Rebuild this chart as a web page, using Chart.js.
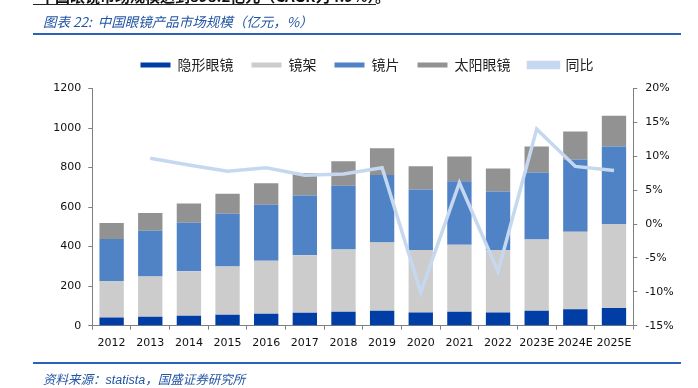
<!DOCTYPE html>
<html><head><meta charset="utf-8">
<script src="https://cdn.jsdelivr.net/npm/chart.js@4/dist/chart.umd.min.js"></script>
<style>
html,body{margin:0;padding:0;background:#fff;width:698px;height:388px;overflow:hidden;position:relative;}
#wrap{position:absolute;left:0;top:0;width:698px;height:388px;}
.t{position:absolute;white-space:nowrap;font-family:"Noto Sans CJK SC",sans-serif;}
#topline{position:absolute;left:33px;top:4px;width:343px;height:1px;background:#222;}
#toptext{left:40px;top:-15px;font-size:15px;font-weight:bold;color:#111;}
#title{left:43px;top:11px;font-size:13.5px;font-style:italic;color:#2255a4;}
#l1{position:absolute;left:33px;top:33px;width:648px;height:2px;background:#2a62b8;}
#l2{position:absolute;left:33px;top:362px;width:648px;height:2px;background:#2a62b8;}
#src{left:43px;top:369px;font-size:12.5px;font-style:italic;color:#2255a4;}
</style></head>
<body>
<div id="wrap"><canvas id="c" width="698" height="388"></canvas></div>
<div class="t" id="toptext">中国眼镜市场规模达到898.2亿元（CAGR为4.9%）。</div>
<div id="topline"></div>
<div class="t" id="title">图表 22:&nbsp; 中国眼镜产品市场规模（亿元，%）</div>
<div id="l1"></div>
<div id="l2"></div>
<div class="t" id="src">资料来源：<span style="font-family:'Liberation Sans';">statista</span>，国盛证券研究所</div>
<script>
const categories = ["2012","2013","2014","2015","2016","2017","2018","2019","2020","2021","2022","2023E","2024E","2025E"];
const contactLens = [42,45,50,56,61,66,71,76,67,71,67,76,83,89];
const frames      = [184,204,225,244,268,291,315,345,316,338,316,360,392,425];
const lenses      = [212,231,246,266,283,302,322,342,306,322,296,339,366,393];
const sunglasses  = [81,90,97,101,109,114,124,135,118,125,116,132,141,155];
const yoy         = [null,9.7,8.7,7.8,8.3,7.2,7.4,8.3,-10.1,6.1,-7.0,14.0,8.5,7.9];
const leftTicks = {min:0,max:1200,step:200};
const rightTicks = {min:-15,max:20,step:5};

const FONT = "'DejaVu Sans', sans-serif";
const axisColor = '#808080';

const legendFix = {
  id:'legendFix',
  beforeInit(chart){
    const fit = chart.legend.fit;
    chart.legend.fit = function(){ fit.bind(chart.legend)(); this.height = 48.5; };
  }
};

new Chart(document.getElementById('c'), {
  data:{
    labels: categories,
    datasets:[
      {type:'bar',label:'隐形眼镜',data:contactLens,backgroundColor:'#003da5',yAxisID:'y',order:1,barPercentage:0.63,categoryPercentage:1},
      {type:'bar',label:'镜架',data:frames,backgroundColor:'#cccccc',yAxisID:'y',order:1,barPercentage:0.63,categoryPercentage:1},
      {type:'bar',label:'镜片',data:lenses,backgroundColor:'#4f83c6',yAxisID:'y',order:1,barPercentage:0.63,categoryPercentage:1},
      {type:'bar',label:'太阳眼镜',data:sunglasses,backgroundColor:'#929292',yAxisID:'y',order:1,barPercentage:0.63,categoryPercentage:1},
      {type:'line',label:'同比',data:yoy,borderColor:'#c6d8f0',backgroundColor:'#c6d8f0',borderWidth:3.5,pointRadius:0,tension:0,yAxisID:'y1',order:0,spanGaps:false}
    ]
  },
  options:{
    responsive:false,animation:false,
    layout:{padding:{top:40,left:36,right:0,bottom:32.3}},
    plugins:{
      legend:{position:'top',labels:{boxWidth:30,boxHeight:5,padding:18,color:'#222',font:{family:"'Noto Sans CJK SC'",size:14},
        sort:(a,b)=>a.datasetIndex-b.datasetIndex}},
      tooltip:{enabled:false}
    },
    scales:{
      x:{stacked:true,offset:true,
         grid:{offset:true,drawOnChartArea:false,drawTicks:true,tickLength:4,color:axisColor},
         border:{color:axisColor},
         ticks:{padding:7,color:'#111',font:{family:FONT,size:11},maxRotation:0,autoSkip:false},
         afterFit(s){s.height=30;}},
      y:{stacked:true,position:'left',min:leftTicks.min,max:leftTicks.max,
         grid:{drawOnChartArea:false,tickLength:4,color:axisColor},
         border:{color:axisColor},
         ticks:{stepSize:leftTicks.step,padding:7,color:'#111',font:{family:FONT,size:11},callback:v=>String(v)},
         afterFit(s){s.width=56.3;}},
      y1:{position:'right',min:rightTicks.min,max:rightTicks.max,
         grid:{drawOnChartArea:false,tickLength:4,color:axisColor},
         border:{color:axisColor},
         ticks:{stepSize:rightTicks.step,padding:8,color:'#111',font:{family:FONT,size:11},callback:v=>v+'%'},
         afterFit(s){s.width=64.7;}}
    }
  },
  plugins:[legendFix]
});
</script>
</body></html>
